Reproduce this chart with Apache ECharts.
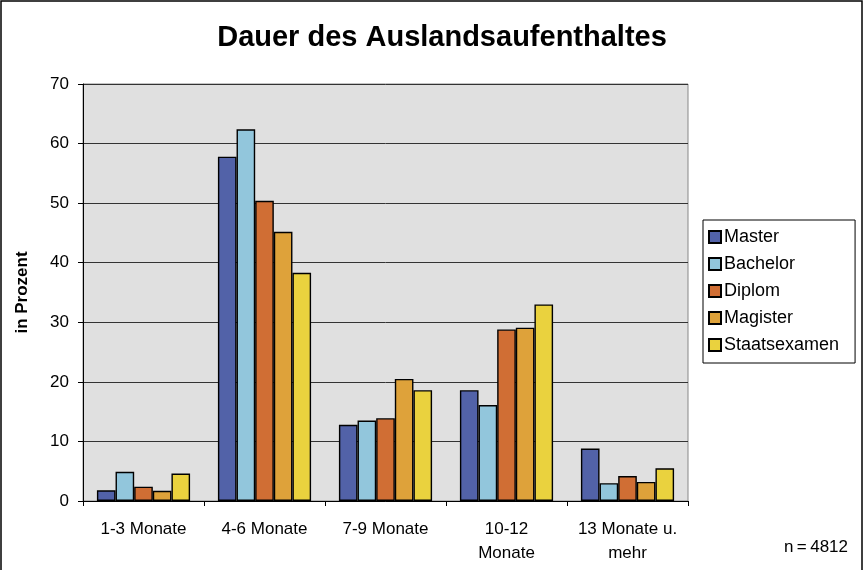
<!DOCTYPE html>
<html>
<head>
<meta charset="utf-8">
<script src="https://cdn.jsdelivr.net/npm/echarts@6/dist/echarts.min.js"></script>
<style>
html,body{margin:0;padding:0;background:#fff;}
#chart{width:866px;height:570px;}
</style>
</head>
<body>
<div id="chart"></div>
<script>
var categories = ['1-3 Monate', '4-6 Monate', '7-9 Monate', '10-12\nMonate', '13 Monate u.\nmehr'];
var master = [1.8, 57.8, 12.8, 18.6, 8.8];
var bachelor = [4.9, 62.4, 13.5, 16.1, 3.0];
var diplom = [2.4, 50.4, 13.9, 28.8, 4.2];
var magister = [1.7, 45.2, 20.5, 29.1, 3.2];
var staatsexamen = [4.6, 38.3, 18.6, 33.0, 5.5];

var fontFam = '"Liberation Sans", Arial, sans-serif';
var chartDom = document.getElementById('chart');
var myChart = echarts.init(chartDom);

/*一个系列*/
function barSeries(name, data, color) {
    return {
        name: name,
        type: 'bar',
        data: data,
        barGap: '0%',
        barCategoryGap: '23%',
        itemStyle: {
            color: color,
            borderColor: '#000',
            borderWidth: 1.4
        }
    };
}

var option = {
    backgroundColor: '#fff',
    animation: false,
    title: {
        text: 'Dauer des Auslandsaufenthaltes',
        left: 437,
        top: 18,
        textAlign: 'center',
        textStyle: {
            fontFamily: fontFam,
            fontWeight: 'bold',
            fontSize: 29,
            color: '#000'
        }
    },
    legend: {
        orient: 'vertical',
        left: 703,
        top: 220,
        padding: [8, 16, 9, 5],
        borderColor: '#000',
        borderWidth: 1,
        itemWidth: 12,
        itemHeight: 12,
        itemGap: 9,
        icon: 'rect',
        textStyle: {
            fontFamily: fontFam,
            fontSize: 18,
            color: '#000',
            padding: [0, 0, 0, -2]
        },
        data: ['Master', 'Bachelor', 'Diplom', 'Magister', 'Staatsexamen']
    },
    grid: {
        left: 83,
        right: 178,
        top: 84,
        bottom: 69,
        show: true,
        backgroundColor: '#e0e0e0',
        borderColor: '#888',
        borderWidth: 1
    },
    xAxis: {
        type: 'category',
        data: categories,
        axisLine: {lineStyle: {color: '#000', width: 1}},
        axisTick: {show: true, length: 5, lineStyle: {color: '#000'}},
        axisLabel: {
            interval: 0,
            hideOverlap: false,
            fontFamily: fontFam,
            fontSize: 17,
            color: '#000',
            margin: 16,
            lineHeight: 24
        }
    },
    yAxis: {
        type: 'value',
        min: 0,
        max: 70,
        interval: 10,
        name: 'in Prozent',
        nameLocation: 'middle',
        nameGap: 52,
        nameTextStyle: {
            fontFamily: fontFam,
            fontWeight: 'bold',
            fontSize: 17,
            color: '#000'
        },
        axisLine: {show: true, lineStyle: {color: '#000', width: 1}},
        axisTick: {show: true, length: 5, lineStyle: {color: '#000'}},
        axisLabel: {
            fontFamily: fontFam,
            fontSize: 17,
            color: '#000',
            margin: 14
        },
        splitLine: {lineStyle: {color: '#333', width: 1}}
    },
    graphic: [
        {
            type: 'rect',
            shape: {x: 1, y: 1, width: 861, height: 580},
            style: {fill: 'none', stroke: '#000', lineWidth: 1.5},
            silent: true
        },
        {
            type: 'text',
            left: 784,
            top: 539,
            style: {
                text: 'n\u2009=\u20094812',
                fontFamily: fontFam,
                fontSize: 17,
                fill: '#000'
            }
        }
    ],
    series: [
        barSeries('Master', master, '#5262a8'),
        barSeries('Bachelor', bachelor, '#92c6dc'),
        barSeries('Diplom', diplom, '#d06e34'),
        barSeries('Magister', magister, '#dea23a'),
        barSeries('Staatsexamen', staatsexamen, '#ead23e')
    ]
};
myChart.setOption(option);
</script>
</body>
</html>
